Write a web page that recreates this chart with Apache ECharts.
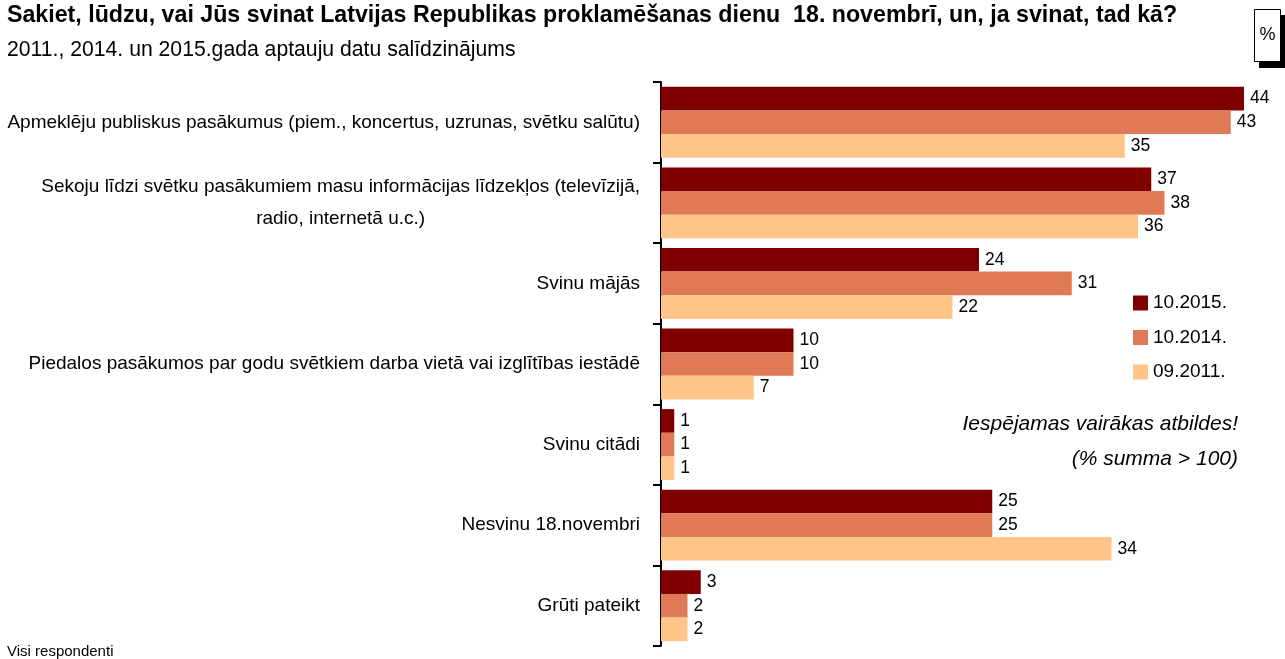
<!DOCTYPE html>
<html>
<head>
<meta charset="utf-8">
<script src="https://cdn.jsdelivr.net/npm/echarts@6/dist/echarts.min.js"></script>
<style>
  html, body { margin: 0; padding: 0; background: #fff; }
  #chart { width: 1285px; height: 659px; }
</style>
</head>
<body>
<div id="chart"></div>
<script>
// Answer options (top to bottom)
const categories = [
  'Apmeklēju publiskus pasākumus (piem., koncertus, uzrunas, svētku salūtu)',
  'Sekoju līdzi svētku pasākumiem masu informācijas līdzekļos (televīzijā,\nradio, internetā u.c.)',
  'Svinu mājās',
  'Piedalos pasākumos par godu svētkiem darba vietā vai izglītības iestādē',
  'Svinu citādi',
  'Nesvinu 18.novembri',
  'Grūti pateikt'
];

// Survey waves
const seriesNames = ['10.2015.', '10.2014.', '09.2011.'];
const values2015 = [44, 37, 24, 10, 1, 25, 3];
const values2014 = [43, 38, 31, 10, 1, 25, 2];
const values2011 = [35, 36, 22, 7, 1, 34, 2];

const colors = ['#800000', '#E07A56', '#FFC487'];
const font = 'Liberation Sans, Arial, sans-serif';

const chart = echarts.init(document.getElementById('chart'), null, { renderer: 'canvas' });

function barSeries(name, data, color) {
  return {
    name: name,
    type: 'bar',
    data: data,
    barGap: '0%',
    barCategoryGap: '12%',
    itemStyle: { color: color },
    label: {
      show: true,
      position: 'right',
      distance: 6,
      color: '#000',
      fontFamily: font,
      fontSize: 17.5
    }
  };
}

chart.setOption({
  animation: false,
  backgroundColor: '#fff',
  title: [
    {
      text: 'Sakiet, lūdzu, vai Jūs svinat Latvijas Republikas proklamēšanas dienu  18. novembrī, un, ja svinat, tad kā?',
      left: 2, top: -1,
      textStyle: { fontFamily: font, fontSize: 23.2, fontWeight: 'bold', color: '#000' }
    },
    {
      text: '2011., 2014. un 2015.gada aptauju datu salīdzinājums',
      left: 2, top: 35,
      textStyle: { fontFamily: font, fontSize: 21.2, fontWeight: 'normal', color: '#000' }
    },
    {
      text: 'Visi respondenti',
      left: 2, top: 639,
      textStyle: { fontFamily: font, fontSize: 15, fontWeight: 'normal', color: '#000' }
    }
  ],
  legend: {
    orient: 'vertical',
    left: 1128, top: 288,
    itemWidth: 15, itemHeight: 15,
    itemGap: 14.5,
    icon: 'rect',
    data: seriesNames,
    textStyle: { fontFamily: font, fontSize: 19, lineHeight: 20, color: '#000' }
  },
  grid: { left: 661, top: 82, bottom: 13, width: 609.5, outerBoundsMode: 'none', containLabel: false },
  xAxis: {
    type: 'value',
    min: 0, max: 46,
    show: false
  },
  yAxis: {
    type: 'category',
    inverse: true,
    data: categories,
    axisLine: { lineStyle: { color: '#000', width: 2 } },
    axisTick: { show: true, length: 8, lineStyle: { color: '#000', width: 2 } },
    axisLabel: {
      margin: 21,
      color: '#000',
      fontFamily: font,
      fontSize: 19,
      formatter: function (v) {
        const lines = v.split('\n');
        if (lines.length === 1) return '{a|' + v + '}';
        return '{a|' + lines[0] + '}\n{c|' + lines[1] + '}';
      },
      rich: {
        a: { fontFamily: font, fontSize: 19, color: '#000', lineHeight: 32 },
        c: { fontFamily: font, fontSize: 19, color: '#000', lineHeight: 32, align: 'center' }
      }
    }
  },
  graphic: [
    {
      type: 'text', x: 1238, y: 424,
      style: { text: 'Iespējamas vairākas atbildes!', font: 'italic 21px ' + font, fill: '#000', textAlign: 'right', textVerticalAlign: 'middle' }
    },
    {
      type: 'text', x: 1238, y: 459,
      style: { text: '(% summa > 100)', font: 'italic 21px ' + font, fill: '#000', textAlign: 'right', textVerticalAlign: 'middle' }
    },
    { type: 'rect', shape: { x: 1259, y: 15, width: 26, height: 53 }, style: { fill: '#000' } },
    { type: 'rect', shape: { x: 1254.5, y: 9.5, width: 26, height: 52 }, style: { fill: '#fff', stroke: '#000', lineWidth: 1 } },
    {
      type: 'text', x: 1267.5, y: 35,
      style: { text: '%', font: '18px ' + font, fill: '#000', textAlign: 'center', textVerticalAlign: 'middle' }
    }
  ],
  series: [
    barSeries(seriesNames[0], values2015, colors[0]),
    barSeries(seriesNames[1], values2014, colors[1]),
    barSeries(seriesNames[2], values2011, colors[2])
  ]
});
</script>
</body>
</html>
